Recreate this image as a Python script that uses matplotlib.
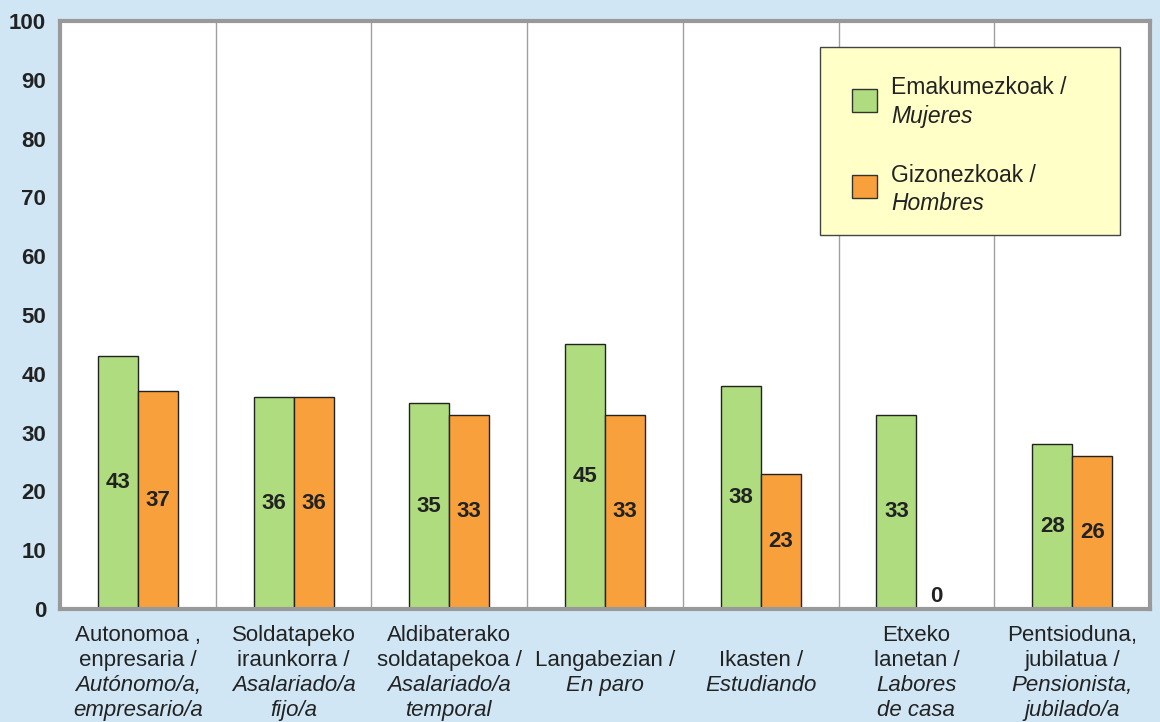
import matplotlib.pyplot as plt
import numpy as np
from matplotlib.patches import Rectangle

plt.rcParams['font.family'] = ['Liberation Sans', 'DejaVu Sans']

# data
labels_eu = ["Autonomoa ,\nenpresaria /", "Soldatapeko\niraunkorra /", "Aldibaterako\nsoldatapekoa /",
             "Langabezian /", "Ikasten /", "Etxeko\nlanetan /", "Pentsioduna,\njubilatua /"]
labels_es = ["Autónomo/a,\nempresario/a", "Asalariado/a\nfijo/a", "Asalariado/a\ntemporal",
             "En paro", "Estudiando", "Labores\nde casa", "Pensionista,\njubilado/a"]
mujeres = [43, 36, 35, 45, 38, 33, 28]
hombres = [37, 36, 33, 33, 23, 0, 26]
legend_labels = [("Emakumezkoak /", "Mujeres"), ("Gizonezkoak /", "Hombres")]

bg = '#D0E6F4'
green = '#AEDC7E'
orange = '#F8A03C'
txt = '#222222'

fig = plt.figure(figsize=(11.6, 7.22), dpi=100, facecolor=bg)
ax = fig.add_axes([60/1160, 113/722, 1090/1160, 588/722])
ax.set_facecolor('white')

x = np.arange(len(mujeres))
w = 0.257
b1 = ax.bar(x - w/2, mujeres, w, color=green, edgecolor='#222222', linewidth=1, zorder=3)
b2 = ax.bar(x + w/2, hombres, w, color=orange, edgecolor='#222222', linewidth=1, zorder=3)

# value labels in the middle of each bar
for bars in (b1, b2):
    for bar in bars:
        h = bar.get_height()
        ypos = h / 2 if h > 0 else 2.2
        ax.text(bar.get_x() + bar.get_width()/2, ypos, f"{h:.0f}", ha='center', va='center',
                fontsize=16, fontweight='bold', color=txt, zorder=4)

ax.set_xlim(-0.5, len(mujeres) - 0.5)
ax.set_ylim(0, 100)
ax.set_yticks(range(0, 101, 10))
ax.set_yticklabels([str(v) for v in range(0, 101, 10)], fontsize=16, fontweight='bold', color=txt)
ax.tick_params(axis='y', length=0, pad=10)
ax.set_xticks([])

# vertical separators between groups
for sep in np.arange(0.5, len(mujeres) - 1, 1):
    ax.axvline(sep, color='#A0A0A0', linewidth=1, zorder=1)

for s in ax.spines.values():
    s.set_color('#999999')
    s.set_linewidth(3)
    s.set_zorder(5)

# category labels: basque normal, spanish italic, vertically centered
trans = ax.get_xaxis_transform()
step = 25 / 588
center = -64 / 588
for i in range(len(labels_eu)):
    lines = [(t, 'normal') for t in labels_eu[i].split("\n")] + \
            [(t, 'italic') for t in labels_es[i].split("\n")]
    n = len(lines)
    for j, (t, st) in enumerate(lines):
        yy = center + ((n - 1) / 2 - j) * step
        ax.text(i, yy, t, transform=trans, ha='center', va='center', fontsize=16,
                style=st, color=txt, clip_on=False)

# legend box
ax.add_patch(Rectangle((0.697, 0.636), 0.2755, 0.32, transform=ax.transAxes,
                       facecolor='#FFFFC8', edgecolor='#444444', linewidth=1, zorder=5))
for k, ((eu, es), col) in enumerate(zip(legend_labels, [green, orange])):
    top = (609 - 89) / 588 - k * 86 / 588
    ax.add_patch(Rectangle(((852 - 60) / 1090, top - 23 / 588), 25 / 1090, 23 / 588,
                           transform=ax.transAxes, facecolor=col, edgecolor='#333333',
                           linewidth=1, zorder=6))
    ax.text((891 - 60) / 1090, (609 - 88) / 588 - k * 87 / 588, eu, transform=ax.transAxes,
            fontsize=16.5, color=txt, va='center', ha='left', zorder=6)
    ax.text((891 - 60) / 1090, (609 - 116) / 588 - k * 87 / 588, es, transform=ax.transAxes,
            fontsize=16.5, style='italic', color=txt, va='center', ha='left', zorder=6)

fig.savefig('out.png', dpi=100, facecolor=bg)
